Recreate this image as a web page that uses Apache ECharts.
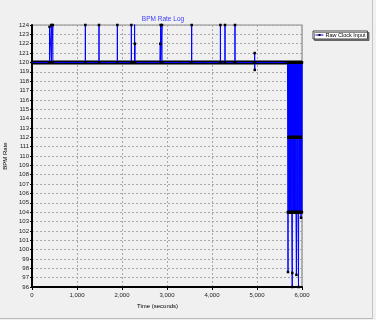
<!DOCTYPE html>
<html>
<head>
<meta charset="utf-8">
<script src="https://cdn.jsdelivr.net/npm/echarts@6/dist/echarts.min.js"></script>
<style>
html,body{margin:0;padding:0;background:#f0f0f0;}
#wrap{width:372px;height:318px;border-right:1px solid #c4c4c4;border-bottom:1px solid #b8b8b8;}
#chart{width:372px;height:318px;}
</style>
</head>
<body>
<div id="wrap"><div id="chart"></div></div>
<script>
// Tick settings
const xTicks = [0, 1000, 2000, 3000, 4000, 5000, 6000];
const yMin = 96, yMax = 124;

// Raw clock input: steady 120 BPM with brief upward spikes
const spikeTimes = [
  0, 389, 390, 391, 429, 430, 431, 462, 463, 464,
  1185, 1186, 1187, 1488, 1489, 1490, 1896, 1897, 1898,
  2207, 2208, 2209, 2279, 2280, 2281, 2285, 2286, 2287,
  2849, 2850, 2851, 2859, 2860, 2861, 2888, 2889, 2890,
  3547, 3548, 3549, 4186, 4187, 4188, 4288, 4289, 4290,
  4510, 4511, 4512, 4947, 4948, 4950, 4951, 5678
];
const spikeValues = [
  120, 120, 123.8, 120, 120, 124, 120, 120, 124, 120,
  120, 124, 120, 120, 124, 120, 120, 124, 120,
  120, 124, 120, 120, 124.25, 120, 120, 122, 120,
  120, 122, 120, 120, 124, 120, 120, 124, 120,
  120, 124, 120, 120, 124, 120, 120, 124, 120,
  120, 124, 120, 120, 121, 119.2, 120, 120
];

// Final unstable section: rapid switching between 120, 112 and 104
const blockTimes = [
  5682, 5686, 5689, 5692, 5696, 5700, 5704, 5708, 5712, 5716, 5720, 5724, 5728, 5732, 5736, 5740,
  5744, 5748, 5752, 5756, 5760, 5764, 5768, 5772, 5778, 5782, 5784, 5786, 5790, 5794, 5798, 5802,
  5806, 5810, 5814, 5818, 5822, 5826, 5830, 5834, 5838, 5842, 5846, 5850, 5854, 5858, 5862, 5866,
  5872, 5876, 5880, 5884, 5888, 5892, 5896, 5900, 5904, 5908, 5912, 5918, 5922, 5926, 5930, 5934,
  5938, 5942, 5946, 5950, 5954, 5958, 5962, 5966, 5970, 5974, 5978, 5982, 5986, 5990, 5994, 5998, 6000
];
const blockValues = [
  120, 104, 97.6, 104, 120, 112, 120, 104, 120, 112, 120, 104, 120, 112, 120, 104,
  120, 112, 120, 104, 120, 112, 120, 104, 104, 96, 97.5, 104, 120, 112, 120, 104,
  120, 112, 120, 104, 120, 112, 120, 104, 120, 112, 120, 104, 120, 112, 120, 104,
  104, 97.3, 104, 120, 112, 120, 104, 120, 112, 120, 104, 104, 96, 104, 120, 112,
  120, 104, 120, 112, 120, 104, 120, 112, 120, 104, 103.4, 104, 120, 104, 120, 104, 120
];

// Dense marker bands (many overlapping point markers)
const band120Times = [0, 6000];
const band120Values = [120, 120];
const band112Times = [5682, 6000];
const band112Values = [112, 112];
const band104Times = [5684, 6000];
const band104Values = [104, 104];

function zip(a, b) { return a.map((t, i) => [t, b[i]]); }

const rawData = zip(spikeTimes, spikeValues).concat(zip(blockTimes, blockValues));

const FONT = 'Liberation Sans, Arial, sans-serif';
const chart = echarts.init(document.getElementById('chart'), null, {renderer: 'canvas'});
chart.setOption({
  animation: false,
  backgroundColor: '#f0f0f0',
  title: {
    text: 'BPM Rate Log',
    left: 158, top: 11, textAlign: 'center',
    textStyle: {fontSize: 6.5, fontWeight: 'normal', color: '#3c3cff', fontFamily: FONT}
  },
  legend: {
    data: ['Raw Clock Input'],
    left: 313, top: 31,
    padding: [1, 2, 1, 2],
    itemWidth: 8, itemHeight: 2.5, itemGap: 2,
    lineStyle: {width: 1, color: '#0000ff'},
    itemStyle: {color: '#000'},
    backgroundColor: '#ffffff',
    borderColor: '#444', borderWidth: 1,
    shadowColor: 'rgba(0,0,0,0.45)', shadowOffsetX: 1.5, shadowOffsetY: 1.5, shadowBlur: 0,
    textStyle: {fontSize: 5.5, color: '#000', fontFamily: FONT, padding: [0, 0, 0, -3]}
  },
  grid: {
    left: 32, top: 25, width: 270, height: 262,
    outerBoundsMode: 'none', containLabel: false,
    show: true, borderColor: '#8a8a8a', borderWidth: 1.2, backgroundColor: 'transparent'
  },
  xAxis: {
    type: 'value', min: xTicks[0], max: xTicks[xTicks.length - 1], interval: 1000,
    name: 'Time (seconds)', nameLocation: 'middle', nameGap: 15,
    nameTextStyle: {fontSize: 6, color: '#000', fontFamily: FONT, padding: [0, 19, 0, 0]},
    axisLine: {show: true, lineStyle: {color: '#000', width: 2}},
    axisTick: {show: true, length: 3, lineStyle: {color: '#000'}},
    axisLabel: {fontSize: 6, color: '#222', fontFamily: FONT, margin: 5,
      formatter: v => v.toLocaleString('en-US')},
    splitLine: {show: true, lineStyle: {color: '#a8a8a8', type: [2, 2], width: 1}}
  },
  yAxis: {
    type: 'value', min: yMin, max: yMax, interval: 1,
    name: 'BPM Rate', nameLocation: 'middle', nameGap: 17,
    nameTextStyle: {fontSize: 6, color: '#000', fontFamily: FONT},
    axisLine: {show: true, lineStyle: {color: '#000', width: 2}},
    axisTick: {show: true, length: 2, lineStyle: {color: '#000'}},
    axisLabel: {fontSize: 6, color: '#222', fontFamily: FONT, margin: 3, interval: 0},
    splitLine: {show: true, lineStyle: {color: '#a8a8a8', type: [2, 2], width: 1}}
  },
  series: [
    {
      name: 'band120', type: 'line', z: 1, silent: true, showSymbol: false,
      data: zip(band120Times, band120Values),
      lineStyle: {color: '#000', width: 4}
    },
    {
      name: 'Raw Clock Input', type: 'line', z: 2,
      data: rawData,
      symbol: 'rect', symbolSize: 2.5, showSymbol: true,
      itemStyle: {color: '#000'},
      lineStyle: {color: '#0000ff', width: 1}
    },
    {
      name: 'band112', type: 'line', z: 3, silent: true, showSymbol: false,
      data: zip(band112Times, band112Values),
      lineStyle: {color: '#000', width: 3.5}
    },
    {
      name: 'band104', type: 'line', z: 3, silent: true, showSymbol: false,
      data: zip(band104Times, band104Values),
      lineStyle: {color: '#000', width: 3}
    }
  ]
});
</script>
</body>
</html>
